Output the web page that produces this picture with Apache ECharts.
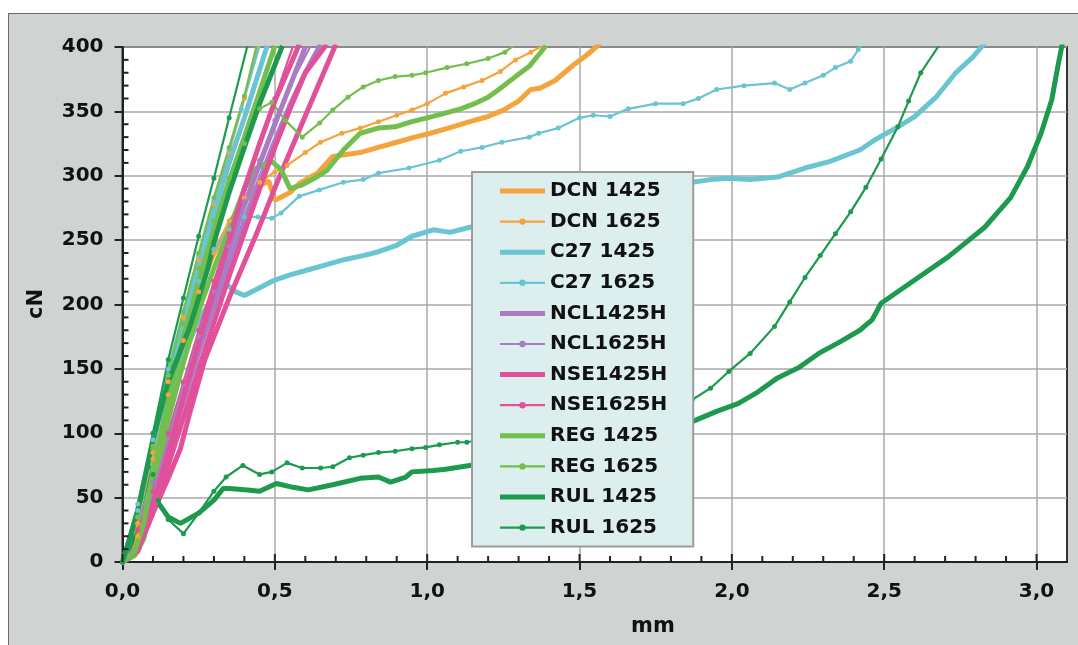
<!DOCTYPE html>
<html>
<head>
<meta charset="utf-8">
<script src="https://cdn.jsdelivr.net/npm/echarts@6/dist/echarts.min.js"></script>
<style>
  html, body { margin: 0; padding: 0; background: #ffffff; }
  #frame { position: absolute; left: 8px; top: 13px; width: 1100px; height: 700px;
           background: #cfd3d2; border-left: 1.5px solid #6a6a6a; border-top: 1.5px solid #6a6a6a; }
  #chart { position: absolute; left: 0; top: 0; width: 1078px; height: 645px; }
</style>
</head>
<body>
<div id="frame"></div>
<div id="chart"></div>
<script>
// ---------- ticks and tick labels ----------
const xTickValues = [0, 0.5, 1.0, 1.5, 2.0, 2.5, 3.0];
const xTickLabels = ['0,0', '0,5', '1,0', '1,5', '2,0', '2,5', '3,0'];
const yTickValues = [0, 50, 100, 150, 200, 250, 300, 350, 400];
const xMinorTickValues = [0.1, 0.2, 0.3, 0.4, 0.6, 0.7, 0.8, 0.9, 1.1, 1.2, 1.3, 1.4, 1.6, 1.7, 1.8, 1.9,
                          2.1, 2.2, 2.3, 2.4, 2.6, 2.7, 2.8, 2.9];
const yMinorTickValues = [10, 20, 30, 40, 60, 70, 80, 90, 110, 120, 130, 140, 160, 170, 180, 190,
                          210, 220, 230, 240, 260, 270, 280, 290, 310, 320, 330, 340, 360, 370, 380, 390];

// ---------- legend categories ----------
const seriesNames = ['DCN 1425', 'DCN 1625', 'C27 1425', 'C27 1625', 'NCL1425H', 'NCL1625H',
                     'NSE1425H', 'NSE1625H', 'REG 1425', 'REG 1625', 'RUL 1425', 'RUL 1625'];

// ---------- curves [mm, cN] ----------
const dcn1425Long = [[0,0],[0.05,15],[0.1,70],[0.15,120],[0.2,168],[0.25,210],[0.3,240],[0.35,262],[0.4,280],[0.45,292],[0.48,296],[0.5,281],[0.55,287],[0.58,294],[0.64,302],[0.69,315],[0.78,318],[0.84,322],[0.9,326],[0.96,330],[1.01,333],[1.07,337],[1.14,342],[1.2,346],[1.25,351],[1.3,358],[1.34,367],[1.37,368],[1.42,374],[1.48,386],[1.52,393],[1.57,403]];
const dcn1625Long = [[0,0],[0.05,20],[0.1,80],[0.15,130],[0.2,172],[0.25,210],[0.3,240],[0.35,265],[0.4,283],[0.45,295],[0.5,303],[0.54,308],[0.6,318],[0.65,326],[0.72,333],[0.78,337],[0.84,342],[0.9,347],[0.95,351],[1.0,356],[1.06,364],[1.12,369],[1.18,374],[1.24,381],[1.29,390],[1.34,396],[1.38,401]];
const dcn1625Steep = [[0,0],[0.05,30],[0.1,85],[0.15,140],[0.2,190],[0.25,235],[0.3,278],[0.35,318],[0.4,360],[0.445,401]];
const c271425Long = [[0,0],[0.05,30],[0.1,80],[0.15,125],[0.2,160],[0.25,188],[0.3,207],[0.34,216],[0.37,210],[0.4,207],[0.45,213],[0.5,219],[0.55,223],[0.61,227],[0.67,231],[0.73,235],[0.79,238],[0.84,241],[0.9,246],[0.95,253],[1.02,258],[1.075,256],[1.14,260],[1.3,270],[1.5,282],[1.7,291],[1.87,295],[1.93,297],[1.99,298],[2.06,297],[2.15,299],[2.24,306],[2.32,311],[2.42,320],[2.47,328],[2.545,338],[2.6,346],[2.67,361],[2.735,380],[2.79,392],[2.83,403]];
const c271425Steep = [[0,0],[0.05,38],[0.1,92],[0.15,142],[0.2,188],[0.25,230],[0.3,270],[0.35,310],[0.4,345],[0.475,401]];
const c271625Long = [[0,0],[0.05,40],[0.1,95],[0.15,145],[0.2,185],[0.25,218],[0.3,243],[0.35,258],[0.4,268],[0.445,268],[0.49,267],[0.52,271],[0.58,284],[0.646,289],[0.725,295],[0.79,297],[0.84,302],[0.94,306],[1.04,312],[1.11,319],[1.18,322],[1.245,326],[1.335,330],[1.366,333],[1.43,337],[1.5,345],[1.545,347],[1.6,346],[1.66,352],[1.75,356],[1.84,356],[1.89,360],[1.95,367],[2.04,370],[2.14,372],[2.19,367],[2.24,372],[2.3,378],[2.34,384],[2.39,389],[2.415,398],[2.43,403]];
const c271625Steep = [[0,0],[0.05,45],[0.1,100],[0.15,150],[0.2,195],[0.25,238],[0.3,280],[0.35,320],[0.39,352],[0.45,401]];
const ncl1425A = [[0,0],[0.05,10],[0.1,45],[0.15,85],[0.2,125],[0.25,163],[0.3,198],[0.35,232],[0.4,265],[0.45,297],[0.5,327],[0.55,355],[0.6,380],[0.65,402]];
const ncl1425B = [[0,0],[0.05,12],[0.1,50],[0.15,92],[0.2,133],[0.25,172],[0.3,208],[0.35,243],[0.4,277],[0.45,309],[0.5,340],[0.55,370],[0.6,400]];
const ncl1625A = [[0,0],[0.05,30],[0.1,62],[0.15,100],[0.2,138],[0.25,175],[0.3,210],[0.35,245],[0.4,280],[0.45,312],[0.5,343],[0.55,370],[0.62,402]];
const nse1425A = [[0,0],[0.05,8],[0.1,38],[0.15,65],[0.19,88],[0.22,115],[0.27,157],[0.35,205],[0.44,255],[0.52,302],[0.61,352],[0.7,402]];
const nse1425B = [[0,0],[0.05,10],[0.1,45],[0.15,85],[0.2,128],[0.25,170],[0.3,210],[0.35,250],[0.4,290],[0.45,325],[0.5,358],[0.58,402]];
const nse1425C = [[0,0],[0.05,9],[0.1,40],[0.15,75],[0.2,112],[0.25,150],[0.3,186],[0.35,222],[0.4,256],[0.45,290],[0.5,322],[0.55,352],[0.6,380],[0.67,402]];
const nse1625A = [[0,0],[0.05,25],[0.1,55],[0.15,100],[0.2,140],[0.25,180],[0.3,218],[0.35,255],[0.4,290],[0.45,325],[0.5,360],[0.56,401]];
const reg1425Long = [[0,0],[0.04,5],[0.07,18],[0.1,55],[0.15,110],[0.2,155],[0.25,195],[0.3,228],[0.34,252],[0.4,290],[0.44,306],[0.49,311],[0.52,305],[0.55,290],[0.59,293],[0.63,298],[0.67,304],[0.725,320],[0.78,333],[0.84,337],[0.895,338],[0.95,342],[1.0,345],[1.065,349],[1.11,352],[1.155,356],[1.2,361],[1.235,367],[1.29,377],[1.335,385],[1.366,394],[1.39,401]];
const reg1425Steep = [[0,0],[0.04,8],[0.07,30],[0.1,70],[0.15,125],[0.2,175],[0.25,218],[0.3,258],[0.35,296],[0.4,330],[0.45,365],[0.5,401]];
const reg1625Long = [[0,0],[0.05,35],[0.1,88],[0.15,140],[0.2,185],[0.25,228],[0.3,265],[0.35,298],[0.4,325],[0.45,352],[0.49,357],[0.535,343],[0.59,330],[0.647,341],[0.69,351],[0.74,361],[0.79,369],[0.84,374],[0.895,377],[0.95,378],[0.995,380],[1.065,384],[1.13,387],[1.2,391],[1.255,396],[1.29,402]];
const reg1625Steep = [[0,0],[0.05,35],[0.1,90],[0.15,145],[0.2,195],[0.25,240],[0.3,283],[0.35,322],[0.4,362],[0.44,401]];
const rul1425Long = [[0,0],[0.03,15],[0.06,45],[0.085,68],[0.1,62],[0.12,45],[0.15,35],[0.19,30],[0.25,38],[0.3,48],[0.33,57],[0.35,57],[0.41,56],[0.45,55],[0.505,61],[0.56,58],[0.61,56],[0.69,60],[0.78,65],[0.84,66],[0.88,62],[0.93,66],[0.95,70],[1.02,71],[1.06,72],[1.14,75],[1.3,83],[1.5,92],[1.7,100],[1.87,109],[1.95,117],[2.02,123],[2.085,132],[2.15,143],[2.22,151],[2.285,162],[2.355,171],[2.42,180],[2.46,188],[2.49,201],[2.6,219],[2.71,237],[2.83,260],[2.915,283],[2.97,307],[3.015,333],[3.05,359],[3.07,385],[3.085,403]];
const rul1425Steep = [[0,0],[0.05,40],[0.1,95],[0.15,140],[0.22,182],[0.28,228],[0.3,248],[0.35,287],[0.4,322],[0.45,356],[0.525,401]];
const rul1625Long = [[0,0],[0.03,20],[0.06,50],[0.085,74],[0.1,68],[0.117,48],[0.15,33],[0.2,22],[0.25,38],[0.3,55],[0.34,66],[0.395,75],[0.45,68],[0.49,70],[0.54,77],[0.59,73],[0.65,73],[0.69,74],[0.745,81],[0.79,83],[0.84,85],[0.895,86],[0.95,88],[0.995,89],[1.04,91],[1.1,93],[1.13,93],[1.3,100],[1.5,108],[1.7,116],[1.87,126],[1.93,135],[1.99,148],[2.06,162],[2.14,183],[2.19,202],[2.24,221],[2.29,238],[2.34,255],[2.39,272],[2.44,291],[2.49,313],[2.545,338],[2.58,358],[2.62,380],[2.685,403]];
const rul1625Steep = [[0,0],[0.03,18],[0.06,50],[0.1,100],[0.15,157],[0.2,205],[0.25,253],[0.3,298],[0.35,345],[0.41,401]];

// ---------- which curve belongs to which legend entry ----------
const curves = [
  ['DCN 1425', dcn1425Long], ['DCN 1625', dcn1625Long], ['C27 1425', c271425Long], ['C27 1625', c271625Long],
  ['NCL1425H', ncl1425A], ['NCL1625H', ncl1625A], ['NSE1425H', nse1425A], ['NSE1625H', nse1625A],
  ['REG 1425', reg1425Long], ['REG 1625', reg1625Long], ['RUL 1425', rul1425Long], ['RUL 1625', rul1625Long],
  ['NCL1425H', ncl1425B], ['NSE1425H', nse1425B], ['NSE1425H', nse1425C],
  ['DCN 1625', dcn1625Steep], ['C27 1425', c271425Steep], ['C27 1625', c271625Steep],
  ['REG 1425', reg1425Steep], ['REG 1625', reg1625Steep], ['RUL 1425', rul1425Steep], ['RUL 1625', rul1625Steep]
];

const colorOf = {
  'DCN': '#f5a33c', 'C27': '#69c5d1', 'NCL': '#a97cc3', 'NSE': '#e0509b', 'REG': '#72bf4d', 'RUL': '#1d9a4e'
};

const FONT = 'DejaVu Sans';
const AXIS_INK = '#222222';
// legend glyphs: a thick bar, or a thin bar with a dot (the two M points fix the glyph box to 45 x 14)
const THICK_ICON = 'path://M0,0 M45,14 M0,4.5 L45,4.5 L45,9.5 L0,9.5 Z';
const THIN_ICON = 'path://M0,0 M45,14 M0,5.9 L45,5.9 L45,8.1 L0,8.1 Z M19.3,7 A3.2,3.2 0 1,1 25.7,7 A3.2,3.2 0 1,1 19.3,7 Z';

const series = curves.map(([name, data]) => {
  const color = colorOf[name.slice(0, 3)];
  const thick = name.indexOf('1425') >= 0;
  return {
    type: 'line', name: name, data: data,
    color: color,
    lineStyle: { width: thick ? 5 : 2.2, color: color },
    itemStyle: { color: color, borderWidth: 0 },
    symbol: thick ? 'none' : 'circle',
    symbolSize: thick ? 0 : 5,
    showSymbol: !thick,
    clip: true,
    animation: false
  };
});

const legendData = seriesNames.map(n => ({ name: n, icon: n.indexOf('1425') >= 0 ? THICK_ICON : THIN_ICON }));

const axisTexts = [
  { type: 'text', x: 37, y: 304, rotation: Math.PI / 2, z: 100,
    style: { text: 'cN', fontFamily: FONT, fontWeight: 'bold', fontSize: 21, fill: '#111',
             textAlign: 'center', textVerticalAlign: 'middle' } },
  { type: 'text', x: 653, y: 627, z: 100,
    style: { text: 'mm', fontFamily: FONT, fontWeight: 'bold', fontSize: 21, fill: '#111',
             textAlign: 'center', textVerticalAlign: 'middle' } }
];

const chart = echarts.init(document.getElementById('chart'), null, { renderer: 'canvas' });
chart.setOption({
  backgroundColor: 'transparent',
  animation: false,
  grid: { left: 122.5, right: 11, top: 47, bottom: 83, show: true, backgroundColor: '#ffffff',
          borderColor: '#333333', borderWidth: 2 },
  xAxis: {
    type: 'value', min: 0, max: 3.1, interval: 0.5,
    axisLine: { show: true, onZero: false, lineStyle: { color: AXIS_INK, width: 2 } },
    axisTick: { show: true, inside: false, length: 8, customValues: xTickValues, lineStyle: { color: AXIS_INK, width: 2 } },
    axisLabel: { show: true, customValues: xTickValues, margin: 20,
                 formatter: v => xTickLabels[Math.round(v / 0.5)] || '',
                 fontFamily: FONT, fontWeight: 'bold', fontSize: 20, color: '#111' },
    splitLine: { show: true, lineStyle: { color: '#a8a8a8', width: 1.5 } }
  },
  yAxis: {
    type: 'value', min: 0, max: 400, interval: 50,
    axisLine: { show: true, onZero: false, lineStyle: { color: AXIS_INK, width: 2 } },
    axisTick: { show: true, inside: false, length: 8, customValues: yTickValues, lineStyle: { color: AXIS_INK, width: 2 } },
    axisLabel: { margin: 19, customValues: yTickValues, fontFamily: FONT, fontWeight: 'bold', fontSize: 20, color: '#111' },
    splitLine: { show: true, lineStyle: { color: '#a8a8a8', width: 1.5 } }
  },
  legend: {
    show: true, orient: 'vertical', left: 472, top: 172, z: 10,
    data: legendData,
    backgroundColor: '#dcefee', borderColor: '#9c9c9c', borderWidth: 2,
    padding: [9, 26, 9, 28],
    itemWidth: 45, itemHeight: 14, itemGap: 10.6,
    itemStyle: { borderWidth: 0 },
    selectedMode: false,
    textStyle: { fontFamily: FONT, fontWeight: 'bold', fontSize: 20, color: '#111', lineHeight: 20 }
  },
  series: series
});

// tick marks pointing into the plot: placed through the chart's own axis scales
const tickEls = [];
function addTick(px, dx, dy) {
  tickEls.push({ type: 'line', z: 100, silent: true,
    shape: { x1: px[0], y1: px[1], x2: px[0] + dx, y2: px[1] + dy },
    style: { stroke: AXIS_INK, lineWidth: 2 } });
}
xMinorTickValues.forEach(v => addTick(chart.convertToPixel({ gridIndex: 0 }, [v, 0]), 0, -6));
xTickValues.forEach(v => addTick(chart.convertToPixel({ gridIndex: 0 }, [v, 0]), 0, -8));
yMinorTickValues.forEach(v => addTick(chart.convertToPixel({ gridIndex: 0 }, [0, v]), 6, 0));

chart.setOption({ graphic: axisTexts.concat(tickEls) });
</script>
</body>
</html>
